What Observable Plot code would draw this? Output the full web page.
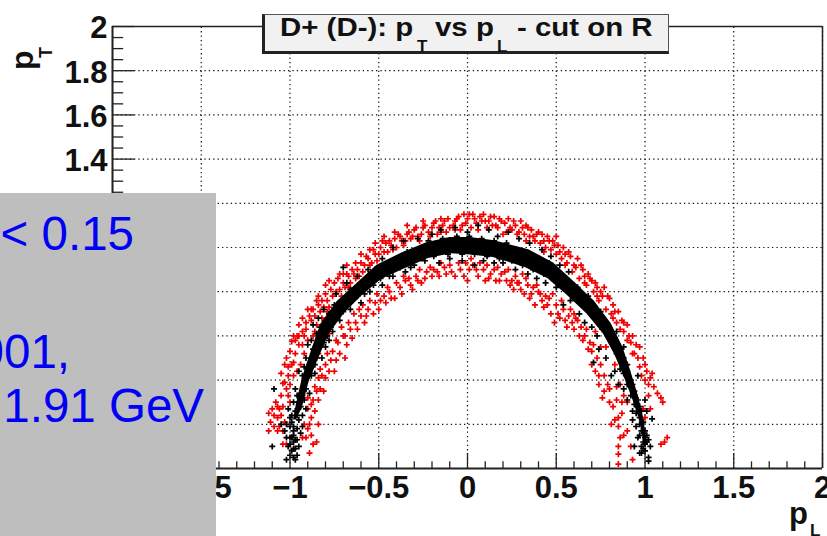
<!DOCTYPE html>
<html><head><meta charset="utf-8">
<script src="https://cdn.jsdelivr.net/npm/d3@7"></script>
<script src="https://cdn.jsdelivr.net/npm/@observablehq/plot@0.6"></script>
<style>
html,body{margin:0;padding:0;background:#fff;overflow:hidden}
#wrap{position:relative;width:827px;height:536px;overflow:hidden;font-family:"Liberation Sans",sans-serif}
.t{position:absolute;white-space:pre;line-height:1;font-weight:bold;color:#111;transform-origin:0 100%}
#panel{position:absolute;left:0;top:193px;width:216px;height:343px;background:#bebebe;overflow:hidden}
#panel div{position:absolute;white-space:pre;color:#0000f5;font-size:47.5px;line-height:1}
#titlebox{position:absolute;left:262px;top:14px;width:403px;height:36px;background:#f1f1f1;border-left:3px solid #222;border-bottom:3px solid #222;border-top:1px solid #555;border-right:1px solid #555}
</style></head><body><div id="wrap"></div>
<script>
const xMajor=[-2,-1.5,-1,-0.5,0,0.5,1,1.5,2];
const xLabels=["−2","−1.5","−1","−0.5","0","0.5","1","1.5","2"];
const yMajor=[0.2,0.4,0.6,0.8,1,1.2,1.4,1.6,1.8,2];
const yLabels=["0.2","0.4","0.6","0.8","1","1.2","1.4","1.6","1.8","2"];
const xMinor=d3.range(-20,21).filter(i=>i%5).map(i=>i/10);
const yMinor=d3.range(1,40).filter(i=>i%4).map(i=>i/20);
const bandOuter=[[-.98,.22],[-.965,.285],[-.93,.41],[-.878,.535],[-.825,.655],[-.735,.755],[-.63,.832],[-.51,.92],[-.37,.975],[-.23,1.022],[-.1,1.045],[.017,1.045],[.152,1.03],[.345,.99],[.485,.93],[.6,.845],[.715,.757],[.81,.655],[.875,.55],[.92,.44],[.962,.33],[.995,.22],[1.01,.113]];
const bandInner=[[-.965,.22],[-.932,.27],[-.893,.39],[-.835,.505],[-.778,.61],[-.69,.705],[-.595,.78],[-.485,.855],[-.35,.905],[-.22,.95],[-.09,.972],[.017,.966],[.145,.955],[.325,.91],[.452,.86],[.56,.785],[.672,.70],[.765,.61],[.83,.515],[.88,.42],[.93,.315],[.972,.213],[.995,.113]];
const redPoints=[[-1.12,.25],[-1.10,.27],[-1.11,.21],[-1.07,.23],[-1.06,.19],[-1.09,.19],[-1.12,.17],[-1.02,.11],[-1.04,.11],[-.88,.15],[-.87,.11],[-.85,.12],[-.89,.07],[-.84,.2],[-.88,.23],[-.84,.31],[-.87,.31],[-1.05,.33],[-1.04,.385],[-1.05,.43],[-1.03,.47],[-1.02,.5],[-1.0,.53],[-.99,.575],[-.98,.6],[-.95,.65],[-.93,.68],[-.90,.72],[-.85,.76],[-.84,.78],[-.80,.83],[-.78,.85],[-.72,.88],[-.68,.92],[-.60,.97],[-.52,1.02],[-.47,1.05],[-.41,1.07],[-.34,1.1],[-.25,1.12],[-.15,1.13],[-.05,1.14],[-.02,1.15],
[-1.08,.3],[-1.04,.28],[-1.0,.3],[-1.03,.21],[-.92,.2],[-.9,.27],[-.86,.37],[-.83,.36],[-.82,.42],[-.8,.47],[-.78,.44],[-.76,.53],[-.73,.57],[-.7,.6],[-.74,.49],[-.68,.56],[-.66,.63],[-.63,.66],[-.6,.69],[-.58,.66],[-.56,.72],[-.52,.75],[-.5,.72],[-.47,.78],[-.44,.8],[-.41,.77],[-.38,.82],[-.35,.85],[-.32,.83],[-.29,.87],[-.26,.84],[-.23,.89],[-.19,.9],[-.16,.87],[-.13,.91],[-.09,.89],[-.05,.93],[-.02,.87],[.01,.9],
[-1.01,.42],[-.99,.47],[-.97,.52],[-.95,.56],[-.96,.6],[-.93,.62],[-.91,.66],[-.89,.69],[-.87,.72],[-.88,.67],[-.84,.74],[-.82,.76],[-.8,.79],[-.77,.81],[-.75,.84],[-.73,.86],[-.7,.84],[-.68,.88],[-.65,.9],[-.63,.93],[-.6,.93],[-.57,.96],[-.55,.99],[-.52,.97],[-.49,1],[-.46,1.02],[-.43,1.01],[-.41,1.04],[-.38,1.05],[-.35,1.03],[-.33,1.07],[-.3,1.08],[-.28,1.05],[-.25,1.09],[-.22,1.07],[-.19,1.11],[-.16,1.09],[-.13,1.12],[-.1,1.09],[-.07,1.12],[-.03,1.1],[.0,1.13],[.03,1.15],[.05,1.11],
[-1.02,.36],[-1.06,.27],[-.98,.42],[-.94,.47],[-.92,.52],[-.9,.58],[-.86,.62],[-.89,.44],[-.87,.48],[-.84,.52],[-.82,.57],[-.78,.61],[-.76,.66],[-.79,.71],[-.74,.72],[-.71,.78],[-.67,.82],[-.63,.86],[-.59,.89],[-.55,.92],[-.51,.94],[-.45,.98],[-.4,1.0],[-.36,1.01],[-.32,1.04],[-.27,1.03],[-.21,1.05],[-.17,1.06],[-.12,1.07],[-.07,1.08],
[.07,1.14],[.1,1.12],[.13,1.14],[.16,1.1],[.18,1.13],[.21,1.11],[.24,1.09],[.26,1.12],[.29,1.07],[.31,1.09],[.34,1.09],[.37,1.05],[.4,1.07],[.43,1.03],[.46,1.03],[.49,1.01],[.52,.98],[.5,1.05],[.55,.97],[.58,.96],[.6,.92],[.62,.95],[.65,.9],[.68,.88],[.7,.85],[.72,.84],[.75,.8],[.77,.82],[.8,.77],[.82,.74],[.85,.71],[.87,.67],[.9,.65],[.88,.62],[.93,.6],[.95,.56],[.97,.55],[.99,.5],[1.0,.47],[1.01,.44],[1.03,.41],[1.04,.43],[1.05,.37],[1.02,.33],[1.07,.34],[1.09,.32],[1.1,.3],[1.03,.27],[1.125,.14],[1.11,.12],[1.09,.11],[.99,.27],[1.0,.23],
[.03,.92],[.06,.87],[.09,.9],[.12,.86],[.15,.9],[.18,.85],[.21,.89],[.24,.83],[.27,.87],[.3,.81],[.33,.86],[.36,.79],[.39,.83],[.42,.76],[.45,.74],[.48,.79],[.51,.7],[.49,.66],[.55,.67],[.58,.72],[.6,.63],[.62,.67],[.65,.58],[.68,.54],[.66,.6],[.71,.56],[.73,.5],[.7,.47],[.75,.47],[.77,.42],[.79,.38],[.74,.38],[.76,.32],[.8,.3],[.82,.28],[.84,.31],[.85,.23],[.87,.25],[.81,.2],[.85,.19],[.9,.17],[.85,.1],[.85,.065],[.85,.02],[.93,.04],[.92,.1],[.88,.15],
[.2,1.06],[.33,1.03],[.43,.98],[.55,.92],[.66,.84],[.73,.78],[.82,.68],[.9,.58],[.93,.52],[.98,.42],[.28,.84],[.4,.8],[.53,.76],[.6,.7],[.72,.62],[.78,.55],[.83,.47],[.86,.38],[.88,.33],[.9,.3]];
const redPoints2=[[-1.07,.28],[-1.05,.24],[-1.09,.24],[-1.04,.17],[-1.07,.17],[-1.01,.33],[-1.03,.39],[-1.0,.38],[-1.01,.46],[-.98,.48],[-.96,.44],[-.97,.58],[-.95,.6],[-.93,.56],[-.92,.6],[-.91,.63],[-.88,.72],[-.87,.6],[-.86,.69],[-.85,.65],[-.83,.71],[-.82,.68],[-.81,.73],[-.79,.76],[-.78,.73],[-.76,.78],[-.74,.8],[-.72,.81],[-.7,.88],[-.69,.82],[-.67,.87],[-.66,.84],[-.64,.88],[-.62,.9],[-.61,.87],[-.58,.92],[-.56,.95],[-.54,.93],[-.53,.99],[-.5,.97],[-.48,1.03],[-.47,.98],[-.44,1.03],[-.42,.99],[-.39,1.06],[-.37,1.03],[-.34,1.06],[-.31,1.05],[-.29,1.09],[-.26,1.06],[-.24,1.1],[-.2,1.09],[-.18,1.12],[-.15,1.07],[-.14,1.1],[-.11,1.13],[-.08,1.1],[-.06,1.13],[-.04,1.08],[-.01,1.11],[.01,1.15],[.02,1.09],[.04,1.13],[.06,1.08],[.08,1.12],[.09,1.15],[.11,1.09],[.12,1.12],
[-.91,.14],[-.9,.18],[-.93,.14],[-.89,.2],[-.88,.29],[-.9,.32],[-.86,.26],[-.85,.35],[-.84,.41],[-.83,.45],[-.81,.35],[-.8,.41],[-.79,.52],[-.77,.49],[-.75,.44],[-.74,.58],[-.72,.52],[-.71,.64],[-.69,.5],[-.69,.6],[-.67,.66],[-.65,.59],[-.64,.7],[-.62,.63],[-.61,.72],[-.59,.74],[-.57,.69],[-.55,.76],[-.53,.7],[-.51,.79],[-.49,.76],[-.46,.75],[-.45,.82],[-.43,.77],[-.4,.84],[-.37,.79],[-.36,.87],[-.33,.86],[-.31,.81],[-.28,.85],[-.27,.9],[-.24,.86],[-.21,.91],[-.2,.87],[-.17,.89],[-.15,.93],[-.12,.88],[-.1,.92],[-.07,.87],[-.04,.9],[-.01,.93],[.0,.85],[.02,.95],
[.14,1.1],[.15,1.14],[.17,1.09],[.19,1.12],[.22,1.07],[.23,1.13],[.25,1.08],[.27,1.1],[.28,1.06],[.3,1.12],[.32,1.06],[.33,1.1],[.35,1.05],[.36,1.08],[.38,1.03],[.39,1.06],[.41,1.02],[.42,1.06],[.44,1.0],[.45,1.05],[.47,.99],[.48,1.03],[.5,.97],[.51,1.01],[.53,.95],[.54,1.0],[.56,.93],[.57,.98],[.59,.89],[.61,.91],[.63,.86],[.64,.92],[.66,.87],[.67,.83],[.69,.86],[.71,.8],[.73,.82],[.74,.76],[.76,.78],[.78,.72],[.79,.78],[.81,.7],[.83,.71],[.84,.66],[.86,.63],[.88,.66],[.91,.6],[.92,.57],[.94,.52],[.96,.5],[.97,.46],[1.0,.4],[1.02,.38],
[.05,.9],[.07,.93],[.1,.85],[.11,.92],[.13,.88],[.16,.85],[.17,.91],[.19,.88],[.22,.85],[.23,.9],[.25,.85],[.26,.81],[.29,.84],[.31,.88],[.32,.79],[.34,.83],[.35,.77],[.37,.82],[.38,.74],[.41,.79],[.43,.73],[.44,.78],[.46,.77],[.47,.7],[.5,.74],[.52,.68],[.54,.72],[.56,.64],[.57,.69],[.59,.66],[.61,.68],[.63,.6],[.64,.64],[.67,.63],[.69,.57],[.7,.53],[.72,.44],[.74,.42],[.77,.35],[.8,.36],[.83,.22],[.86,.14],[.84,.37],[.87,.3],[.75,.55]];
const blackPoints=[[-1.10,.10],[-1.02,.04],[-1.09,.36],[-.70,.91],[-1.05,.2],[-1.03,.17],[-1.0,.14],[-1.02,.14],[-.98,.12],[-.97,.09],[-.99,.08],[-1.0,.06],[-.98,.05],[-.96,.06],[-1.01,.1],[-.96,.13],[-.94,.16],[-.98,.17],[-1.0,.19],[-.93,.19],[-.95,.22],[-.99,.24],[-.93,.24],[-1.01,.27],[-.91,.27],[-.98,.3],[-.93,.33],[-.89,.34],[-.97,.36],[-.92,.39],[-.88,.42],[-.95,.44],[-.86,.47],[-.91,.5],[-.82,.5],[-.9,.56],[-.84,.59],[-.8,.55],[-.87,.65],[-.78,.58],[-.84,.68],[-.76,.62],[-.81,.72],[-.72,.67],[-.74,.79],[-.68,.74],[-.66,.72],[-.68,.84],[-.6,.75],[-.62,.87],[-.55,.8],[-.56,.9],[-.48,.83],[-.48,.95],[-.42,.87],[-.42,1.0],[-.35,.89],[-.36,1.03],[-.3,.92],[-.28,1.04],[-.24,.94],[-.2,1.06],[-.16,.93],[-.15,1.08],[-.1,.95],[-.07,1.09],[-.03,.94],[.0,1.07],[.04,.92],[.06,1.1],[.09,.94],[.12,1.08],[.15,.93],[.17,1.05],[.2,.93],[.23,1.07],[.27,.9],[.29,1.04],[.34,.88],[.35,1.02],[.39,.86],[.42,.99],[.44,.84],[.47,.96],[.5,.82],[.52,.92],[.54,.74],[.57,.89],[.58,.76],[.62,.82],[.63,.7],[.68,.78],[.66,.66],[.7,.64],[.73,.6],[.75,.71],[.71,.48],[.74,.54],[.77,.67],[.78,.5],[.8,.59],[.81,.42],[.84,.62],[.83,.44],[.86,.45],[.88,.55],[.85,.38],[.9,.47],[.88,.36],[.93,.38],[.9,.31],[.96,.42],[.93,.26],[.97,.28],[1.04,.225],[.95,.19],[1.01,.26],[.96,.14],[1.0,.17],[1.02,.13],[.98,.1],[1.0,.08],[1.03,.1],[1.02,.05],[1.02,.033],[.97,.07],[.99,.12],[.94,.1],[1.01,.15],[.97,.2],[.93,.22],[1.0,.31]];
const blackPoints2=[[-.99,.21],[-.97,.26],[-.96,.24],[-.95,.3],[-.94,.34],[-.92,.31],[-.96,.33],[-.91,.36],[-.93,.42],[-.9,.42],[-.89,.47],[-.92,.46],[-.86,.43],[-.87,.54],[-.85,.5],[-.88,.58],[-.83,.55],[-.85,.61],[-.81,.57],[-.83,.64],[-.79,.6],[-.8,.67],[-.77,.64],[-.78,.7],[-.74,.68],[-.75,.74],[-.7,.71],[-.71,.76],[-.66,.75],[-.66,.81],[-.62,.78],[-.6,.84],[-.58,.79],[-.56,.85],[-.53,.83],[-.52,.9],[-.49,.86],[-.46,.92],[-.44,.87],[-.4,.95],[-.38,.91],[-.34,.98],[-.32,.91],[-.28,.99],[-.26,.95],[-.22,1.03],[-.19,.96],[-.14,1.04],[-.11,.97],[-.06,1.05],[-.03,.97],[.01,1.05],[.04,.97],[.08,1.04],[.11,.96],[.15,1.03],[.18,.95],[.22,1.02],[.25,.94],[.28,.99],[.31,.92],[.34,.97],[.37,.9],[.4,.95],[.43,.88],[.46,.93],[.49,.85],[.51,.89],[.54,.83],[.56,.84],[.58,.79],[.6,.83],[.62,.77],[.65,.79],[.67,.72],[.7,.75],[.72,.69],[.74,.7],[.76,.63],[.78,.65],[.79,.6],[.8,.63],[.82,.56],[.83,.59],[.84,.52],[.86,.54],[.86,.49],[.88,.5],[.88,.43],[.9,.44],[.9,.38],[.92,.4],[.92,.33],[.94,.35],[.94,.29],[.96,.31],[.95,.25],[.98,.26],[.97,.23],[.99,.21],[.98,.17],[1.0,.14],[.97,.15],[.99,.09],[1.01,.12],[1.0,.11],[.98,.07],[-.98,.19],[-.98,.15],[-.96,.18],[-.99,.14],[-1.0,.11],[-.98,.09],[-.97,.13],[-.95,.1],[-.97,.04],[-1.02,.2],[-.94,.28],[-1.0,.23]];
const width=827,height=536;
const ax={stroke:"#222"};
const plot=Plot.plot({width,height,marginLeft:112,marginRight:5,marginTop:26,marginBottom:68,
 style:{fontFamily:"Liberation Sans",fontWeight:"bold",color:"#111",background:"#fff"},
 x:{domain:[-2,2],label:null},y:{domain:[0,2],label:null},
 marks:[
  Plot.ruleX(xMajor,{y1:0,y2:2,stroke:"#111",strokeWidth:1.2,strokeDasharray:"1.3,3.1"}),
  Plot.ruleY(yMajor,{x1:-2,x2:2,stroke:"#111",strokeWidth:1.2,strokeDasharray:"1.3,3.1"}),
  Plot.dot(redPoints.concat(redPoints2),{x:d=>d[0],y:d=>d[1],symbol:"plus",r:2.1,stroke:"#f00000",strokeWidth:1.7}),
  Plot.area(bandOuter.map((d,i)=>({a:d,b:bandInner[i]})),{x1:d=>d.a[0],y1:d=>d.a[1],x2:d=>d.b[0],y2:d=>d.b[1],fill:"#000",curve:"linear"}),
  Plot.dot(blackPoints.concat(blackPoints2),{x:d=>d[0],y:d=>d[1],symbol:"plus",r:2.1,stroke:"#000",strokeWidth:1.7}),
  Plot.ruleX(xMajor,{y1:0,y2:0.068,...ax,strokeWidth:1.3}),
  Plot.ruleX(xMinor,{y1:0,y2:0.03,...ax,strokeWidth:1.3}),
  Plot.ruleY(yMajor,{x1:-2,x2:-1.875,...ax,strokeWidth:1.3}),
  Plot.ruleY(yMinor,{x1:-2,x2:-1.937,...ax,strokeWidth:1.3}),
  Plot.ruleY([0],{...ax,strokeWidth:2.2}),
  Plot.ruleX([-2],{...ax,strokeWidth:2}),
  Plot.ruleY([2],{...ax,strokeWidth:1.5}),
  Plot.ruleX([2],{...ax,strokeWidth:1.5}),
  Plot.axisX({ticks:xMajor,tickSize:0,tickPadding:7,fontSize:31,label:null,tickFormat:d=>xLabels[xMajor.indexOf(d)]}),
  Plot.axisY({ticks:yMajor,tickSize:0,tickPadding:5,dy:2,fontSize:31,label:null,tickFormat:d=>yLabels[yMajor.indexOf(d)]})
 ]});
const wrap=document.getElementById("wrap");
wrap.appendChild(plot);
function add(html){wrap.insertAdjacentHTML("beforeend",html)}
add('<div id="titlebox"></div>');
function t(s,x,base,size,sx){const top=base-size*0.846;add(`<div class="t" style="left:${x}px;top:${top}px;font-size:${size}px;transform:scaleX(${sx||1})">${s}</div>`)}
t("D+ (D-): p",280,36,26.5,1.11);t("T",417,52,17,1);t("vs p",435,36,26.5,1.11);t("L",497,52,17,1);t("- cut on R",517,36,26.5,1.11);
t("p",789,524,31,1);t("L",810,536,17,1);
add('<div class="t" style="left:0;top:0;font-size:32px;transform-origin:0 0;transform:translate(33px,70px) rotate(-90deg) translateY(-27px)">p</div>');
add('<div class="t" style="left:0;top:0;font-size:18px;transform-origin:0 0;transform:translate(52px,58px) rotate(-90deg) translateY(-15px)">T</div>');
add('<div id="panel"><div style="right:82px;top:17px">&lt; 0.15</div><div style="right:146px;top:135px">001,</div><div style="right:12px;top:189px">1.91 GeV</div></div>');
</script></body></html>
